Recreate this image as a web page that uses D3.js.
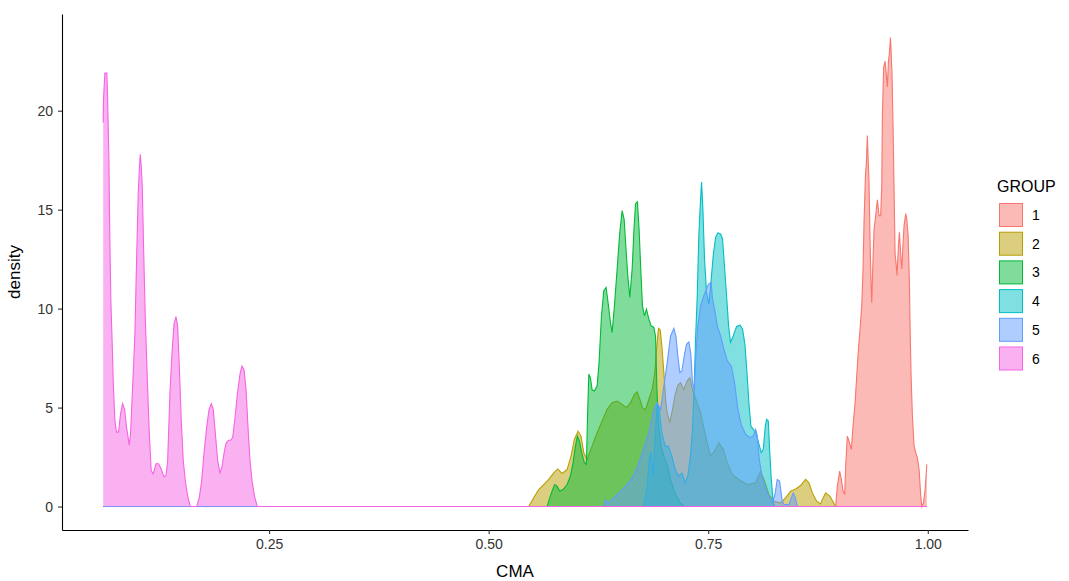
<!DOCTYPE html>
<html>
<head>
<meta charset="utf-8">
<script src="https://cdn.jsdelivr.net/npm/d3@7"></script>
<style>
  html, body { margin: 0; padding: 0; background: #ffffff; }
  svg { display: block; font-family: "Liberation Sans", Arial, sans-serif; }
</style>
</head>
<body>
<svg id="chart" width="1069" height="581"></svg>
<script>
// ---- data (CMA value, density) ----
const groups = ["1", "2", "3", "4", "5", "6"];
const colors = ["#F8766D", "#B79F00", "#00BA38", "#00BFC4", "#619CFF", "#F564E3"];
const xTicks = [0.25, 0.50, 0.75, 1.00];
const yTicks = [0, 5, 10, 15, 20];

const group1 = [[0.0611,0],[0.8951,0],[0.8970,1.03],[0.8997,1.79],[0.9016,1.37],[0.9035,0.78],[0.9054,0.61],[0.9065,2.04],[0.9084,3.56],[0.9103,3.31],[0.9130,2.89],[0.9149,4.07],[0.9172,5.25],[0.9191,6.6],[0.9210,7.95],[0.9229,8.96],[0.9248,10.14],[0.9263,12.0],[0.9274,14.36],[0.9290,16.7],[0.9301,17.4],[0.9312,18.75],[0.9320,17.7],[0.9331,16.4],[0.9343,13.35],[0.9354,11.3],[0.9362,10.3],[0.9373,12.0],[0.9388,14.0],[0.9407,14.7],[0.9426,15.5],[0.9445,14.7],[0.9464,14.7],[0.9476,16.2],[0.9483,19.76],[0.9498,22.2],[0.9514,22.5],[0.9525,21.96],[0.9540,21.2],[0.9552,22.5],[0.9563,22.9],[0.9575,23.7],[0.9582,23.05],[0.9593,21.8],[0.9605,19.1],[0.9616,16.05],[0.9628,12.7],[0.9639,12.3],[0.9650,11.66],[0.9666,13.2],[0.9677,13.86],[0.9692,12.7],[0.9704,12.0],[0.9719,13.35],[0.9730,14.2],[0.9749,14.8],[0.9761,14.5],[0.9776,13.7],[0.9791,11.3],[0.9799,8.96],[0.9810,6.6],[0.9825,4.57],[0.9844,3.05],[0.9863,2.72],[0.9882,2.46],[0.9901,1.87],[0.9920,0.52],[0.9932,0],[0.9951,0.19],[0.9970,0.86],[0.9989,2.13]];

const group2 = [[0.0611,0],[0.5456,0],[0.5513,0.44],[0.5570,0.86],[0.5627,1.11],[0.5684,1.37],[0.5741,1.7],[0.5786,1.9],[0.5836,1.67],[0.5893,1.87],[0.5938,2.55],[0.5976,3.39],[0.6018,3.81],[0.6052,3.56],[0.6083,2.72],[0.6121,2.38],[0.6178,3.05],[0.6235,3.73],[0.6292,4.32],[0.6349,4.91],[0.6406,5.25],[0.6463,5.33],[0.6520,5.16],[0.6569,5.0],[0.6615,5.25],[0.6660,5.67],[0.6691,5.79],[0.6721,5.42],[0.6751,5.0],[0.6786,4.88],[0.6824,5.42],[0.6862,5.92],[0.6892,6.77],[0.6915,8.12],[0.6934,9.0],[0.6953,8.93],[0.6972,8.12],[0.6995,6.77],[0.7015,5.4],[0.7033,4.74],[0.7063,4.24],[0.7093,4.91],[0.7124,5.67],[0.7154,6.13],[0.7185,6.26],[0.7223,5.92],[0.7261,6.35],[0.7291,6.51],[0.7321,5.92],[0.7359,5.42],[0.7413,4.74],[0.7470,3.56],[0.7527,2.55],[0.7572,2.8],[0.7622,3.22],[0.7671,2.89],[0.7717,2.21],[0.7774,1.62],[0.7850,1.37],[0.7945,1.11],[0.8040,1.2],[0.8097,1.79],[0.8142,1.28],[0.8191,0.61],[0.8248,0.27],[0.8324,0.19],[0.8381,0.44],[0.8438,0.78],[0.8495,0.89],[0.8552,1.06],[0.8609,1.37],[0.8647,1.2],[0.8686,0.69],[0.8735,0.27],[0.8780,0.13],[0.8799,0.35],[0.8837,0.69],[0.8887,0.52],[0.8951,0],[0.9989,0]];

const group3 = [[0.0611,0],[0.5665,0],[0.5695,0.44],[0.5722,0.78],[0.5752,1.11],[0.5779,1.03],[0.5809,0.78],[0.5847,0.86],[0.5893,1.11],[0.5931,1.54],[0.5961,2.21],[0.5988,3.05],[0.6010,3.56],[0.6033,3.31],[0.6060,2.72],[0.6090,2.21],[0.6113,2.13],[0.6125,4.4],[0.6140,6.68],[0.6159,6.5],[0.6178,5.9],[0.6204,5.84],[0.6235,6.1],[0.6257,7.27],[0.6284,9.6],[0.6311,10.9],[0.6337,11.07],[0.6360,10.3],[0.6387,9.3],[0.6406,8.8],[0.6432,10.14],[0.6463,12.0],[0.6493,13.86],[0.6520,14.95],[0.6543,14.5],[0.6561,13.2],[0.6584,11.66],[0.6607,10.57],[0.6634,12.0],[0.6653,13.86],[0.6672,15.3],[0.6694,15.4],[0.6713,14.0],[0.6732,12.0],[0.6751,10.14],[0.6774,9.64],[0.6797,9.97],[0.6824,9.47],[0.6850,9.13],[0.6881,9.05],[0.6900,8.6],[0.6915,6.0],[0.6935,4.0],[0.6965,3.0],[0.7000,2.5],[0.7040,2.0],[0.7080,1.2],[0.7130,0.6],[0.7180,0.2],[0.7230,0],[0.9989,0]];

const group4 = [[0.0611,0],[0.6767,0],[0.6805,1.03],[0.6831,2.55],[0.6850,2.72],[0.6873,1.54],[0.6896,3.56],[0.6919,5.25],[0.6941,4.91],[0.6972,3.73],[0.7010,3.05],[0.7048,3.05],[0.7086,2.55],[0.7124,1.87],[0.7162,1.54],[0.7200,1.7],[0.7238,1.2],[0.7268,1.54],[0.7298,2.55],[0.7321,3.9],[0.7340,6.09],[0.7356,8.46],[0.7375,10.65],[0.7393,13.69],[0.7409,15.2],[0.7424,16.39],[0.7439,15.04],[0.7458,12.5],[0.7481,10.82],[0.7508,10.23],[0.7534,11.49],[0.7557,12.68],[0.7584,13.6],[0.7610,13.82],[0.7641,13.77],[0.7663,13.52],[0.7682,12.34],[0.7709,10.65],[0.7732,9.13],[0.7754,8.29],[0.7785,8.62],[0.7823,9.1],[0.7861,9.16],[0.7891,8.96],[0.7918,8.2],[0.7941,6.77],[0.7963,5.25],[0.7986,4.07],[0.8013,3.9],[0.8043,3.73],[0.8074,3.22],[0.8104,2.72],[0.8127,2.89],[0.8150,4.07],[0.8165,4.4],[0.8184,4.32],[0.8199,2.89],[0.8218,1.37],[0.8241,0.19],[0.8256,0],[0.9989,0]];

const group5 = [[0.0611,0],[0.6303,0],[0.6330,0.35],[0.6356,0.19],[0.6406,0.35],[0.6463,0.61],[0.6520,0.86],[0.6577,1.11],[0.6634,1.45],[0.6691,1.96],[0.6736,2.55],[0.6786,3.22],[0.6835,3.9],[0.6881,4.91],[0.6919,5.25],[0.6957,4.9],[0.6995,6.09],[0.7033,7.27],[0.7071,8.62],[0.7109,9.0],[0.7132,8.62],[0.7154,7.61],[0.7177,6.77],[0.7200,6.85],[0.7227,7.61],[0.7253,8.2],[0.7280,8.32],[0.7302,7.7],[0.7321,6.26],[0.7340,5.92],[0.7359,7.61],[0.7382,9.13],[0.7413,10.14],[0.7443,10.57],[0.7473,10.9],[0.7504,11.24],[0.7534,11.32],[0.7549,10.48],[0.7572,9.97],[0.7603,9.13],[0.7641,8.62],[0.7679,7.95],[0.7717,7.36],[0.7762,7.1],[0.7800,6.26],[0.7838,4.91],[0.7876,4.15],[0.7925,3.65],[0.7975,3.48],[0.8013,3.56],[0.8040,3.9],[0.8059,3.56],[0.8081,2.38],[0.8112,1.54],[0.8142,1.03],[0.8180,0.61],[0.8229,0.19],[0.8260,0.61],[0.8286,1.37],[0.8313,1.28],[0.8340,0.35],[0.8362,0.1],[0.8419,0.1],[0.8446,0.44],[0.8469,0.69],[0.8492,0.44],[0.8515,0],[0.9989,0]];

const group6 = [[0.0611,19.4],[0.0615,20.6],[0.0630,21.9],[0.0653,21.9],[0.0661,20.7],[0.0676,17.6],[0.0687,13.5],[0.0699,10.3],[0.0714,8.2],[0.0725,6.4],[0.0744,4.35],[0.0763,3.76],[0.0786,3.76],[0.0809,4.7],[0.0832,5.2],[0.0855,4.9],[0.0877,4.0],[0.0908,3.1],[0.0923,3.7],[0.0946,6.0],[0.0972,8.7],[0.0991,12.4],[0.1010,15.8],[0.1022,17.0],[0.1033,17.8],[0.1044,17.2],[0.1056,16.2],[0.1071,13.1],[0.1090,9.6],[0.1113,6.5],[0.1136,3.7],[0.1158,1.8],[0.1181,1.65],[0.1212,2.16],[0.1242,2.16],[0.1272,1.9],[0.1303,1.5],[0.1326,1.57],[0.1345,2.3],[0.1371,5.7],[0.1394,7.7],[0.1417,9.2],[0.1440,9.6],[0.1459,9.1],[0.1478,7.05],[0.1500,4.35],[0.1523,2.3],[0.1550,1.15],[0.1576,0.47],[0.1603,0],[0.1675,0],[0.1706,0.47],[0.1732,1.3],[0.1759,2.7],[0.1789,4.0],[0.1816,4.9],[0.1842,5.2],[0.1865,4.9],[0.1888,3.7],[0.1915,2.3],[0.1941,1.7],[0.1964,2.0],[0.1987,2.7],[0.2010,3.2],[0.2036,3.35],[0.2063,3.35],[0.2086,3.5],[0.2112,4.5],[0.2139,5.7],[0.2169,6.7],[0.2192,7.1],[0.2215,6.9],[0.2238,5.9],[0.2260,4.0],[0.2283,2.3],[0.2306,1.3],[0.2336,0.47],[0.2367,0],[0.9989,0]];

const series = [group1, group2, group3, group4, group5, group6];

// ---- layout ----
const svg = d3.select("#chart");
const panel = { left: 62, right: 968, top: 14, bottom: 530 };

const allX = series.flat().map(d => d[0]);
const allY = series.flat().map(d => d[1]);
const xMin = d3.min(allX), xMax = d3.max(allX);
const yMax = d3.max(allY);
const xPad = (xMax - xMin) * 0.05, yPad = yMax * 0.05;

const x = d3.scaleLinear().domain([xMin - xPad, xMax + xPad]).range([panel.left, panel.right]);
const y = d3.scaleLinear().domain([-yPad, yMax + yPad]).range([panel.bottom, panel.top]);

const area = d3.area().x(d => x(d[0])).y0(y(0)).y1(d => y(d[1]));
const line = d3.line().x(d => x(d[0])).y(d => y(d[1]));

const marks = svg.append("g");
series.forEach((s, i) => {
  const g = marks.append("g");
  g.append("path").attr("d", area(s)).attr("fill", colors[i]).attr("fill-opacity", 0.5).attr("stroke", "none");
  g.append("path").attr("d", line(s)).attr("fill", "none").attr("stroke", colors[i]).attr("stroke-width", 1.1);
});

// ---- axes ----
const xAxis = svg.append("g").attr("transform", `translate(0,${panel.bottom})`)
  .call(d3.axisBottom(x).tickValues(xTicks).tickFormat(d3.format(".2f")).tickSize(4).tickSizeOuter(0).tickPadding(5));
const yAxis = svg.append("g").attr("transform", `translate(${panel.left},0)`)
  .call(d3.axisLeft(y).tickValues(yTicks).tickFormat(d3.format("d")).tickSize(4).tickSizeOuter(0).tickPadding(5));

[xAxis, yAxis].forEach(a => {
  a.select(".domain").attr("stroke", "#000").attr("stroke-width", 1.1);
  a.selectAll(".tick line").attr("stroke", "#333").attr("stroke-width", 1.1);
  a.selectAll(".tick text").attr("fill", "#333").style("font-size", "14px")
    .style("font-family", '"Liberation Sans", Arial, sans-serif');
});

svg.append("text").attr("x", (panel.left + panel.right) / 2).attr("y", 577)
  .attr("text-anchor", "middle").style("font-size", "17px").attr("fill", "#000").text("CMA");
svg.append("text").attr("transform", `translate(20,${(panel.top + panel.bottom) / 2}) rotate(-90)`)
  .attr("text-anchor", "middle").style("font-size", "17px").attr("fill", "#000").text("density");

// ---- legend ----
const legend = svg.append("g");
legend.append("text").attr("x", 997).attr("y", 192).style("font-size", "16px").attr("fill", "#000").text("GROUP");
groups.forEach((gname, i) => {
  const yy = 203 + i * 28.7;
  legend.append("rect").attr("x", 999.5).attr("y", yy + 0.5).attr("width", 23).attr("height", 23)
    .attr("fill", colors[i]).attr("fill-opacity", 0.5).attr("stroke", colors[i]).attr("stroke-width", 1);
  legend.append("text").attr("x", 1032).attr("y", yy + 17).style("font-size", "14px").attr("fill", "#000").text(gname);
});
</script>
</body>
</html>
